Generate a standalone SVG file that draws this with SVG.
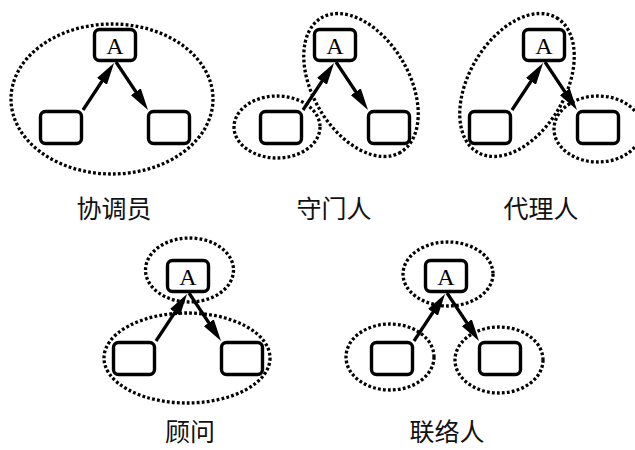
<svg xmlns="http://www.w3.org/2000/svg" width="635" height="450" viewBox="0 0 635 450">
<style>
.bg{fill:#ffffff}
.box{fill:#ffffff;stroke:#000;stroke-width:3.4}
.grp{fill:none;stroke:#000;stroke-width:3.3;stroke-dasharray:2.8 2.2}
.arr{fill:none;stroke:#000;stroke-width:3.2;marker-end:url(#ah)}
.a{font-family:"Liberation Serif","DejaVu Serif",serif;font-size:24px;text-anchor:middle;fill:#000}
.lbl{font-family:"Noto Sans CJK SC","Noto Sans",sans-serif;font-size:25px;text-anchor:middle;fill:#111}
</style>
<defs>
<marker id="ah" viewBox="0 0 22 12" markerWidth="22" markerHeight="12" refX="13" refY="6" orient="auto" markerUnits="userSpaceOnUse">
<path d="M0,0 L22,6 L0,12 z" fill="#000"/>
</marker>
</defs>
<rect class="bg" x="0" y="0" width="635" height="450"/>

<!-- group outlines -->
<g id="groups">
<g id="p1-groups" transform="translate(115,45)">
<ellipse class="grp" cx="-3" cy="54" rx="101" ry="75"/>
</g>
<g id="p2-groups" transform="translate(335,45)">
<ellipse class="grp" cx="-58" cy="82" rx="43" ry="31"/>
<ellipse class="grp" cx="26" cy="40" rx="78" ry="48" transform="rotate(59.5 26 40)"/>
</g>
<g id="p3-groups" transform="translate(544,45)">
<ellipse class="grp" cx="-27" cy="40" rx="78" ry="48" transform="rotate(-59.5 -27 40)"/>
<ellipse class="grp" cx="54" cy="84" rx="44" ry="33"/>
</g>
<g id="p4-groups" transform="translate(188,276)">
<ellipse class="grp" cx="1.5" cy="-6" rx="44" ry="32"/>
<ellipse class="grp" cx="-1" cy="82" rx="83" ry="45"/>
</g>
<g id="p5-groups" transform="translate(446,276)">
<ellipse class="grp" cx="2" cy="-2" rx="45" ry="32"/>
<ellipse class="grp" cx="-56" cy="81" rx="44" ry="33"/>
<ellipse class="grp" cx="53" cy="84" rx="44" ry="33"/>
</g>
</g>

<!-- connectors -->
<g id="connectors">
<g transform="translate(115,45)">
<line class="arr" x1="-32" y1="65" x2="-5.9" y2="25.5"/>
<line class="arr" x1="1" y1="17" x2="28" y2="57.5"/>
</g>
<g transform="translate(335,45)">
<line class="arr" x1="-32" y1="65" x2="-5.9" y2="25.5"/>
<line class="arr" x1="1" y1="17" x2="28" y2="57.5"/>
</g>
<g transform="translate(544,45)">
<line class="arr" x1="-32" y1="65" x2="-5.9" y2="25.5"/>
<line class="arr" x1="1" y1="17" x2="28" y2="57.5"/>
</g>
<g transform="translate(188,276)">
<line class="arr" x1="-32" y1="65" x2="-5.9" y2="25.5"/>
<line class="arr" x1="1" y1="17" x2="28" y2="57.5"/>
</g>
<g transform="translate(446,276)">
<line class="arr" x1="-32" y1="65" x2="-5.9" y2="25.5"/>
<line class="arr" x1="1" y1="17" x2="28" y2="57.5"/>
</g>
</g>

<!-- panel 1 -->
<g id="p1" transform="translate(115,45)">
<g id="p1-A"><rect class="box" x="-20.5" y="-15.5" width="41" height="31" rx="5"/><text class="a" x="0" y="8.5">A</text></g>
<g id="p1-left"><rect class="box" x="-74.5" y="66.5" width="41" height="32" rx="5"/></g>
<g id="p1-right"><rect class="box" x="33.5" y="66.5" width="41" height="32" rx="5"/></g>
</g>
<!-- panel 2 -->
<g id="p2" transform="translate(335,45)">
<g id="p2-A"><rect class="box" x="-20.5" y="-15.5" width="41" height="31" rx="5"/><text class="a" x="0" y="8.5">A</text></g>
<g id="p2-left"><rect class="box" x="-74.5" y="66.5" width="41" height="32" rx="5"/></g>
<g id="p2-right"><rect class="box" x="33.5" y="66.5" width="41" height="32" rx="5"/></g>
</g>
<!-- panel 3 -->
<g id="p3" transform="translate(544,45)">
<g id="p3-A"><rect class="box" x="-20.5" y="-15.5" width="41" height="31" rx="5"/><text class="a" x="0" y="8.5">A</text></g>
<g id="p3-left"><rect class="box" x="-74.5" y="66.5" width="41" height="32" rx="5"/></g>
<g id="p3-right"><rect class="box" x="33.5" y="66.5" width="41" height="32" rx="5"/></g>
</g>
<!-- panel 4 -->
<g id="p4" transform="translate(188,276)">
<g id="p4-A"><rect class="box" x="-20.5" y="-15.5" width="41" height="31" rx="5"/><text class="a" x="0" y="8.5">A</text></g>
<g id="p4-left"><rect class="box" x="-74.5" y="66.5" width="41" height="32" rx="5"/></g>
<g id="p4-right"><rect class="box" x="33.5" y="66.5" width="41" height="32" rx="5"/></g>
</g>
<!-- panel 5 -->
<g id="p5" transform="translate(446,276)">
<g id="p5-A"><rect class="box" x="-20.5" y="-15.5" width="41" height="31" rx="5"/><text class="a" x="0" y="8.5">A</text></g>
<g id="p5-left"><rect class="box" x="-74.5" y="66.5" width="41" height="32" rx="5"/></g>
<g id="p5-right"><rect class="box" x="33.5" y="66.5" width="41" height="32" rx="5"/></g>
</g>

<!-- labels -->
<g id="labels">
<text class="lbl" x="114" y="218">协调员</text>
<text class="lbl" x="334" y="218">守门人</text>
<text class="lbl" x="541" y="218">代理人</text>
<text class="lbl" x="190" y="441">顾问</text>
<text class="lbl" x="447" y="441">联络人</text>
</g>
</svg>
